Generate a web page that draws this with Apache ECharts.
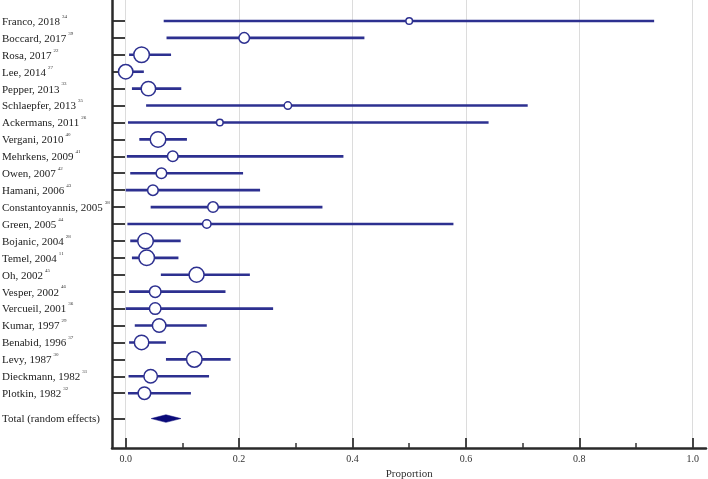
<!DOCTYPE html>
<html>
<head>
<meta charset="utf-8">
<script src="https://cdn.jsdelivr.net/npm/echarts@6/dist/echarts.min.js"></script>
<style>html,body{margin:0;padding:0;background:#fff;}#c{width:708px;height:479px;}</style>
</head>
<body>
<div id="c"></div>
<script>
// ---- data ----
var studies = ['Franco, 2018','Boccard, 2017','Rosa, 2017','Lee, 2014','Pepper, 2013','Schlaepfer, 2013','Ackermans, 2011','Vergani, 2010','Mehrkens, 2009','Owen, 2007','Hamani, 2006','Constantoyannis, 2005','Green, 2005','Bojanic, 2004','Temel, 2004','Oh, 2002','Vesper, 2002','Vercueil, 2001','Kumar, 1997','Benabid, 1996','Levy, 1987','Dieckmann, 1982','Plotkin, 1982'];
var refs = ['34','39','22','27','33','35','26','40','41','42','43','38','44','28','11','45','46','36','29','37','30','31','32'];
var estimate = [0.500,0.209,0.028,0.000,0.040,0.286,0.166,0.057,0.083,0.063,0.048,0.154,0.143,0.035,0.037,0.125,0.052,0.052,0.059,0.028,0.121,0.044,0.033];
var lower    = [0.067,0.072,0.006,0.000,0.011,0.036,0.004,0.024,0.002,0.008,0.000,0.044,0.003,0.008,0.011,0.062,0.006,0.000,0.016,0.006,0.071,0.005,0.004];
var upper    = [0.932,0.421,0.080,0.032,0.098,0.709,0.640,0.108,0.384,0.207,0.237,0.347,0.578,0.097,0.093,0.219,0.176,0.260,0.143,0.071,0.185,0.147,0.115];
var weight   = [1.4,3.1,6.2,5.4,5.4,1.7,1.4,6.2,3.1,3.1,3.1,3.1,2.1,6.2,6.2,5.8,3.6,3.6,4.8,5.4,6.2,4.8,4.2];
var totalLabel = 'Total (random effects)';
var totalEst = 0.071, totalLower = 0.045, totalUpper = 0.0975;
var xTicks = [0, 0.2, 0.4, 0.6, 0.8, 1.0];
var xName = 'Proportion';

// ---- build ----
var rows = studies.map(function(s, i){ return i; });
var totalRow = studies.length + 0.5;
var tickRows = rows.concat([totalRow]);
var navy = '#2d3090';
var serif = '"Liberation Serif", "Times New Roman", serif';
var yMin = -1.24, yMax = 25.24;

var ciData = rows.map(function(i){ return [lower[i], upper[i], i]; });
var ptData = rows.map(function(i){ return [estimate[i], i, weight[i]]; });

var chart = echarts.init(document.getElementById('c'), null, {renderer: 'canvas'});
chart.setOption({
  animation: false,
  backgroundColor: '#fff',
  grid: [
    {left: 125.7, right: 15.3, top: 0, bottom: 31, containLabel: false, outerBoundsMode: 'none'},
    {left: 112, right: 2, top: 0, bottom: 31, containLabel: false, outerBoundsMode: 'none'}
  ],
  xAxis: [
    {
      gridIndex: 0, type: 'value', position: 'bottom', min: 0, max: 1, interval: 0.2,
      axisLine: {show: false, onZero: false},
      axisTick: {show: true, inside: true, length: 10, lineStyle: {color: '#333', width: 1.8}},
      minorTick: {show: true, splitNumber: 2, length: 5, lineStyle: {color: '#333', width: 1.5}},
      splitLine: {show: true, lineStyle: {color: '#dcdcdc', width: 1}},
      axisLabel: {margin: 6, fontFamily: serif, fontSize: 10, color: '#333',
        formatter: function(v){ return xTicks.indexOf(Math.round(v*10)/10) >= 0 ? v.toFixed(1) : ''; }},
      name: xName, nameLocation: 'middle', nameGap: 20,
      nameTextStyle: {fontFamily: serif, fontSize: 11, color: '#333'}
    },
    {
      gridIndex: 1, type: 'value', position: 'bottom', min: 0, max: 1,
      axisLine: {show: true, onZero: false, lineStyle: {color: '#2a2a2a', width: 2.5}},
      axisTick: {show: false}, axisLabel: {show: false}, splitLine: {show: false}
    }
  ],
  yAxis: [
    {gridIndex: 0, type: 'value', inverse: true, min: yMin, max: yMax, show: false},
    {
      gridIndex: 1, type: 'value', position: 'left', inverse: true, min: yMin, max: yMax,
      axisLine: {show: true, onZero: false, lineStyle: {color: '#2a2a2a', width: 2.5}},
      axisTick: {show: true, inside: true, length: 13, customValues: tickRows, lineStyle: {color: '#2a2a2a', width: 1.8}},
      splitLine: {show: false},
      axisLabel: {
        show: true, customValues: tickRows, align: 'left', margin: 110,
        formatter: function(v){
          if (v > studies.length - 0.5) return '{n|' + totalLabel + '}';
          var i = Math.round(v);
          return '{n|' + studies[i] + '}{s|' + refs[i] + '}';
        },
        rich: {
          n: {fontFamily: serif, fontSize: 11, color: '#222', lineHeight: 14, padding: [2, 0, 0, 0]},
          s: {fontFamily: serif, fontSize: 5, color: '#333', verticalAlign: 'top', padding: [0, 0, 0, 2]}
        }
      }
    }
  ],
  series: [
    {
      type: 'custom', xAxisIndex: 0, yAxisIndex: 0, data: ciData, clip: false,
      renderItem: function(params, api){
        var a = api.coord([api.value(0), api.value(2)]);
        var b = api.coord([api.value(1), api.value(2)]);
        return {type: 'line', shape: {x1: a[0], y1: a[1], x2: b[0], y2: b[1]},
          style: {stroke: navy, lineWidth: 2.6}};
      }
    },
    {
      type: 'scatter', xAxisIndex: 0, yAxisIndex: 0, data: ptData, symbol: 'circle',
      symbolSize: function(d){ return 6.85 * Math.sqrt(d[2]) - 1.5; },
      itemStyle: {color: '#fff', borderColor: navy, borderWidth: 1.5, opacity: 1},
      z: 3
    },
    {
      type: 'custom', xAxisIndex: 0, yAxisIndex: 0, data: [[totalLower, totalEst, totalUpper, totalRow]],
      renderItem: function(params, api){
        var l = api.coord([api.value(0), api.value(3)]);
        var m = api.coord([api.value(1), api.value(3)]);
        var r = api.coord([api.value(2), api.value(3)]);
        return {type: 'polygon', shape: {points: [[l[0], l[1]], [m[0], m[1] - 3.8], [r[0], r[1]], [m[0], m[1] + 3.8]]},
          style: {fill: '#0b0b7a', stroke: '#0b0b7a', lineWidth: 0.5}};
      }
    }
  ]
});
</script>
</body>
</html>
